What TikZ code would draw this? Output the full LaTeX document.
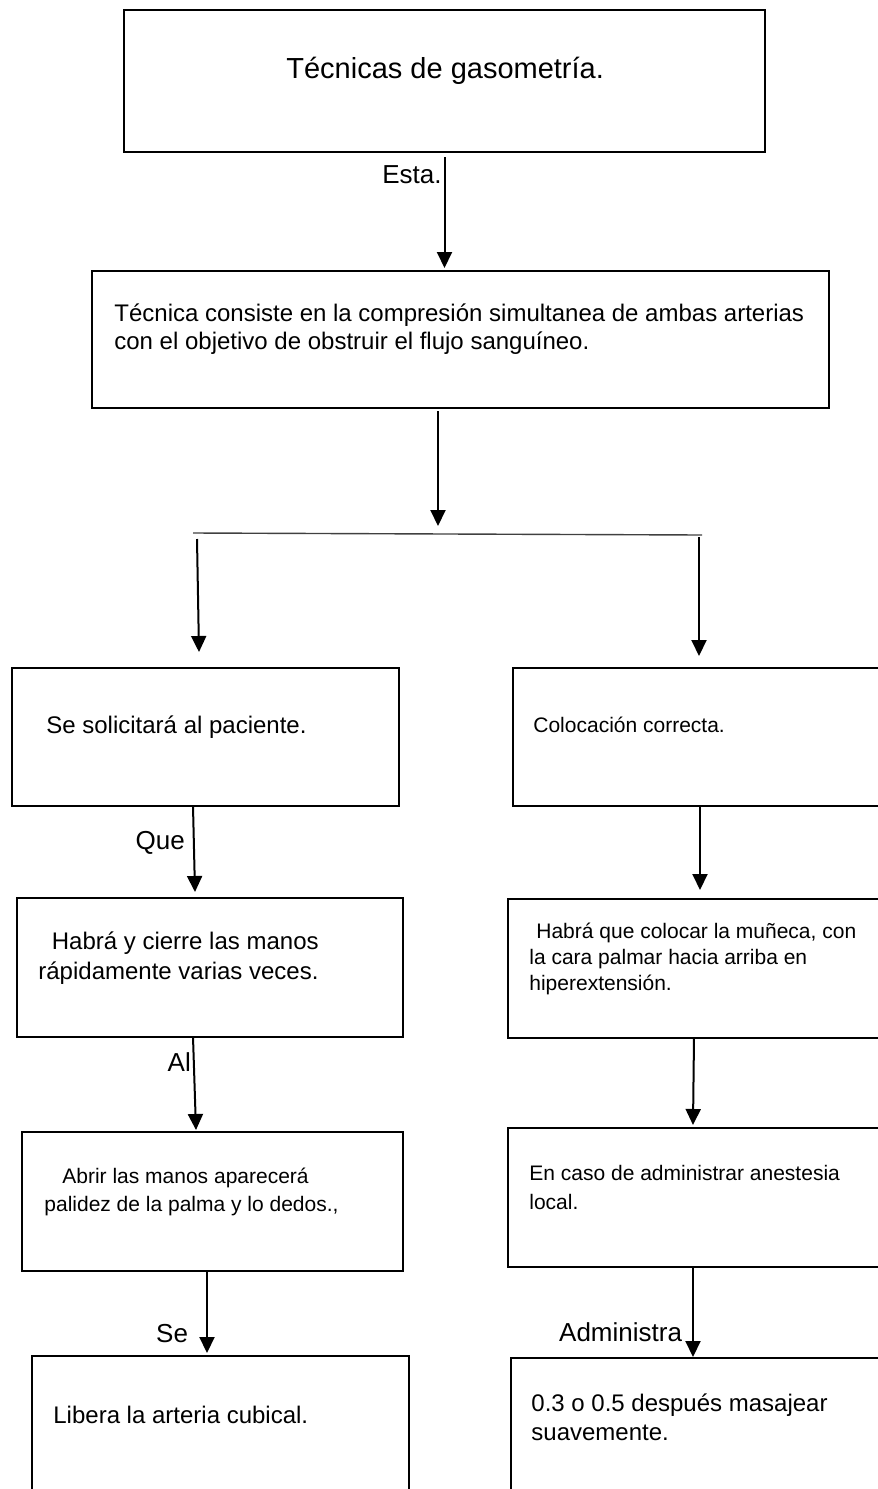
\documentclass[tikz,border=0pt]{standalone}
\usepackage{fontspec}
\setmainfont{Liberation Sans}
\usetikzlibrary{arrows.meta,calc}

\begin{document}
\begin{tikzpicture}[
    x=0.5pt, y=-0.5pt,
    box/.style={draw, line width=1.2pt, inner sep=0pt, outer sep=0pt},
    txt/.style={anchor=west, inner sep=0pt, align=left, font=\fontsize{12}{14}\selectfont},
    small/.style={txt, font=\fontsize{10.5}{13.5}\selectfont},
    lbl/.style={anchor=east, inner sep=1pt, font=\fontsize{13}{15}\selectfont},
    arrow/.style={-{Triangle[length=8pt,width=7.5pt]}, line width=1pt}
]
\useasboundingbox (0,0) rectangle (878,1489);
\clip (0,0) rectangle (878,1489);

% boxes
\node[box, minimum width=320.5pt, minimum height=71pt] (title) at (444.5,81) {};
\node[box, minimum width=368.5pt, minimum height=68.5pt] (defin) at (460.5,339.5) {};
\node[box, minimum width=193.5pt, minimum height=69pt] (pac) at (205.5,737) {};
\node[box, minimum width=193.5pt, minimum height=69pt] (coloc) at (706.5,737) {};
\node[box, minimum width=193pt, minimum height=69.5pt] (manos) at (210,967.5) {};
\node[box, minimum width=193.5pt, minimum height=69.5pt] (muneca) at (701.5,968.5) {};
\node[box, minimum width=190.5pt, minimum height=69.5pt] (abrir) at (212.5,1201.5) {};
\node[box, minimum width=193.5pt, minimum height=69.5pt] (anest) at (701.5,1197.5) {};
\node[box, minimum width=188.5pt, minimum height=69.5pt] (libera) at (220.5,1425.5) {};
\node[box, minimum width=193.5pt, minimum height=69.5pt] (dosis) at (704.5,1427.5) {};

% texts
\node[txt, font=\fontsize{14.5}{17}\selectfont] (t-title) at (286,71) {Técnicas de gasometría.};
\node[txt] (t-defin) at (114,329) {Técnica consiste en la compresión simultanea de ambas arterias\\con el objetivo de obstruir el flujo sanguíneo.};
\node[txt] (t-pac) at (46,727) {Se solicitará al paciente.};
\node[small] (t-coloc) at (533,725) {Colocación correcta.};
\node[txt, font=\fontsize{12}{15}\selectfont] (t-manos) at (38,958) {\hspace{6.75pt}Habrá y cierre las manos\\rápidamente varias veces.};
\node[small, font=\fontsize{10.5}{13}\selectfont] (t-muneca) at (529,959) {\hspace{3.5pt}Habrá que colocar la muñeca, con\\la cara palmar hacia arriba en\\hiperextensión.};
\node[small, font=\fontsize{10.5}{14}\selectfont] (t-abrir) at (44,1192) {\hspace{9pt}Abrir las manos aparecerá\\palidez de la palma y lo dedos.,};
\node[small, font=\fontsize{10.5}{14.5}\selectfont] (t-anest) at (529,1187.5) {En caso de administrar anestesia\\local.};
\node[txt] (t-libera) at (53,1415) {Libera la arteria cubical.};
\node[txt, font=\fontsize{12}{14.5}\selectfont] (t-dosis) at (531,1417.5) {0.3 o 0.5 después masajear\\suavemente.};

% split line
\coordinate (splitL) at (193,533);
\coordinate (splitR) at (702,535);
\coordinate (hub) at (438,526);
\draw[line width=0.7pt, black!75] (splitL) -- (splitR);

% connectors
\draw[arrow] ($(title.south)+(0,5)$) -- node[lbl, pos=0.16] {Esta.} ($(title.south |- defin.north)+(0,-3)$);
\draw[arrow] ($(defin.south)+(-22.5,3)$) -- (hub);
\draw[arrow] ($(splitL)+(4,6)$) -- ($(pac.north)+(-6.5,-16)$);
\draw[arrow] ($(splitR)+(-3,2)$) -- ($(coloc.north)+(-7.5,-12)$);
\draw[arrow] ($(pac.south)+(-12.5,0)$) -- node[lbl, pos=0.43, xshift=-3pt] {Que} ($(manos.north)+(-15,-6)$);
\draw[arrow] ($(coloc.south)+(-6.5,0)$) -- ($(muneca.north)+(-1.5,-9)$);
\draw[arrow] ($(manos.south)+(-17,0)$) -- node[lbl, pos=0.27] {Al} ($(abrir.north)+(-16.5,-2)$);
\draw[arrow] ($(muneca.south)+(-7.5,0)$) -- ($(anest.north)+(-8.5,-3)$);
\draw[arrow] ($(abrir.south)+(-5.5,0)$) -- node[lbl, pos=0.76, xshift=-8pt] {Se} ($(libera.north)+(-13.5,-3)$);
\draw[arrow] ($(anest.south)+(-8.5,0)$) -- node[lbl, pos=0.72, xshift=-4pt] {Administra} ($(dosis.north)+(-11.5,-1)$);
\end{tikzpicture}
\end{document}
